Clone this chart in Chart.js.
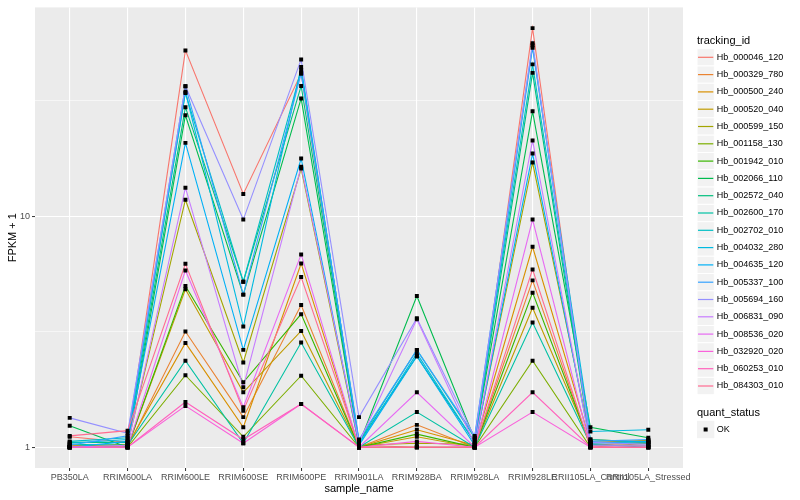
<!DOCTYPE html>
<html lang="en">
<head>
<meta charset="UTF-8">
<title>FPKM + 1 by sample</title>
<script src="https://cdn.jsdelivr.net/npm/chart.js"></script>
<style>
  body { margin: 0; background: #ffffff; }
  #wrap { width: 800px; height: 500px; }
</style>
</head>
<body>
<div id="wrap"><canvas id="fpkmChart" width="800" height="500"></canvas></div>
<script>
const samples = ["PB350LA", "RRIM600LA", "RRIM600LE", "RRIM600SE", "RRIM600PE", "RRIM901LA",
  "RRIM928BA", "RRIM928LA", "RRIM928LE", "RRII105LA_Control", "RRII105LA_Stressed"];

const trackingIds = ["Hb_000046_120", "Hb_000329_780", "Hb_000500_240", "Hb_000520_040", "Hb_000599_150",
  "Hb_001158_130", "Hb_001942_010", "Hb_002066_110", "Hb_002572_040", "Hb_002600_170",
  "Hb_002702_010", "Hb_004032_280", "Hb_004635_120", "Hb_005337_100", "Hb_005694_160",
  "Hb_006831_090", "Hb_008536_020", "Hb_032920_020", "Hb_060253_010", "Hb_084303_010"];

const trackColors = ["#F8766D", "#EA8331", "#D89000", "#C09B00", "#A3A500", "#7CAE00", "#39B600",
  "#00BB4E", "#00BF7D", "#00C1A3", "#00BFC4", "#00BAE0", "#00B0F6", "#35A2FF", "#9590FF",
  "#C77CFF", "#E76BF3", "#FA62DB", "#FF62BC", "#FF6C91"];

// FPKM + 1, one value per sample
const hb000046 = [1.11, 1.05, 52.3, 12.5, 41.5, 1.02, 1.00, 1.00, 65.3, 1.02, 1.05];
const hb000329 = [1.02, 1.00, 3.17, 1.35, 4.13, 1.00, 1.25, 1.00, 5.28, 1.00, 1.04];
const hb000500 = [1.00, 1.02, 2.83, 1.22, 6.25, 1.00, 1.19, 1.02, 7.38, 1.05, 1.07];
const hb000520 = [1.00, 1.00, 4.83, 1.73, 3.19, 1.00, 1.11, 1.00, 4.02, 1.04, 1.07];
const hb000599 = [1.01, 1.03, 11.8, 2.33, 16.1, 1.02, 1.04, 1.03, 17.1, 1.08, 1.05];
const hb001158 = [1.00, 1.00, 2.05, 1.11, 2.04, 1.00, 1.00, 1.00, 2.37, 1.00, 1.00];
const hb001942 = [1.00, 1.00, 4.99, 1.91, 3.77, 1.00, 1.14, 1.00, 4.67, 1.02, 1.02];
const hb002066 = [1.24, 1.00, 27.4, 4.58, 32.4, 1.03, 4.52, 1.08, 28.5, 1.22, 1.10];
const hb002572 = [1.05, 1.05, 29.7, 5.21, 36.7, 1.05, 2.48, 1.05, 41.8, 1.05, 1.04];
const hb002600 = [1.03, 1.02, 2.37, 1.04, 2.84, 1.00, 1.42, 1.00, 3.47, 1.03, 1.00];
const hb002702 = [1.06, 1.10, 34.2, 5.21, 42.9, 1.06, 2.64, 1.10, 45.5, 1.08, 1.05];
const hb004032 = [1.04, 1.08, 34.6, 3.33, 44.3, 1.03, 2.55, 1.05, 53.7, 1.17, 1.19];
const hb004635 = [1.00, 1.06, 20.8, 2.64, 17.8, 1.02, 2.48, 1.02, 18.7, 1.04, 1.06];
const hb005337 = [1.02, 1.12, 36.6, 4.58, 41.5, 1.08, 2.64, 1.12, 55.0, 1.06, 1.08];
const hb005694 = [1.34, 1.15, 36.6, 9.68, 47.8, 1.35, 3.62, 1.10, 56.2, 1.05, 1.03];
const hb006831 = [1.00, 1.02, 13.3, 1.82, 16.4, 1.05, 3.58, 1.03, 21.3, 1.02, 1.02];
const hb008536 = [1.00, 1.00, 5.83, 1.49, 6.84, 1.00, 1.73, 1.00, 9.68, 1.00, 1.00];
const hb032920 = [1.00, 1.00, 1.51, 1.04, 1.54, 1.00, 1.06, 1.00, 1.42, 1.00, 1.00];
const hb060253 = [1.00, 1.00, 1.57, 1.08, 1.54, 1.00, 1.00, 1.00, 1.73, 1.00, 1.00];
const hb084303 = [1.12, 1.18, 6.23, 1.44, 5.46, 1.00, 1.00, 1.00, 5.89, 1.00, 1.00];

const seriesValues = [hb000046, hb000329, hb000500, hb000520, hb000599, hb001158, hb001942,
  hb002066, hb002572, hb002600, hb002702, hb004032, hb004635, hb005337, hb005694,
  hb006831, hb008536, hb032920, hb060253, hb084303];

const yMajor = [1, 10];
const yMinor = [Math.sqrt(10), Math.sqrt(1000)];
const quantLevels = ["OK"];

const datasets = seriesValues.map((vals, i) => ({
  type: "line",
  label: trackingIds[i],
  data: vals.map((v, j) => ({ x: j, y: v })),
  borderColor: trackColors[i],
  borderWidth: 1.1,
  pointRadius: 0,
  fill: false,
  tension: 0,
  order: seriesValues.length - i
}));

datasets.push({
  type: "scatter",
  label: "OK",
  data: seriesValues.flatMap(vals => vals.map((v, j) => ({ x: j, y: v }))),
  pointStyle: "rect",
  pointRadius: 2.8,
  pointBackgroundColor: "#000000",
  pointBorderWidth: 0,
  order: 0
});

const panelBg = {
  id: "panelBg",
  beforeDraw(chart) {
    const { ctx, chartArea: a } = chart;
    ctx.save();
    ctx.fillStyle = "#EBEBEB";
    ctx.fillRect(a.left, a.top, a.right - a.left, a.bottom - a.top);
    ctx.restore();
  }
};

const sideLegend = {
  id: "sideLegend",
  afterDraw(chart) {
    const ctx = chart.ctx;
    const x0 = 697, keyW = 17.3, keyH = 17.3;
    ctx.save();
    ctx.textBaseline = "middle";
    ctx.fillStyle = "#000000";
    ctx.font = "11px 'Liberation Sans', Arial, sans-serif";
    ctx.fillText("tracking_id", x0, 40.5);
    ctx.font = "9px 'Liberation Sans', Arial, sans-serif";
    trackingIds.forEach((id, i) => {
      const cy = 57.3 + i * keyH;
      ctx.fillStyle = "#F2F2F2";
      ctx.fillRect(x0, cy - keyH / 2, keyW, keyH);
      ctx.strokeStyle = "#FFFFFF";
      ctx.lineWidth = 1;
      ctx.strokeRect(x0, cy - keyH / 2, keyW, keyH);
      ctx.strokeStyle = trackColors[i];
      ctx.lineWidth = 1.2;
      ctx.beginPath();
      ctx.moveTo(x0 + 1, cy);
      ctx.lineTo(x0 + keyW - 1, cy);
      ctx.stroke();
      ctx.fillStyle = "#000000";
      ctx.fillText(id, x0 + keyW + 2.5, cy);
    });
    ctx.font = "11px 'Liberation Sans', Arial, sans-serif";
    ctx.fillText("quant_status", x0, 412.7);
    ctx.font = "9px 'Liberation Sans', Arial, sans-serif";
    quantLevels.forEach((q, i) => {
      const cy = 429.5 + i * keyH;
      ctx.fillStyle = "#F2F2F2";
      ctx.fillRect(x0, cy - keyH / 2, keyW, keyH);
      ctx.fillStyle = "#000000";
      ctx.fillRect(x0 + keyW / 2 - 2, cy - 2, 4, 4);
      ctx.fillText(q, x0 + keyW + 2.5, cy);
    });
    ctx.restore();
  }
};

const isMajor = v => yMajor.some(m => Math.abs(m - v) < 1e-6);

new Chart(document.getElementById("fpkmChart"), {
  data: { datasets: datasets },
  options: {
    responsive: false,
    animation: false,
    layout: { padding: { left: 0, right: 117, top: 5, bottom: 0 } },
    plugins: { legend: { display: false }, tooltip: { enabled: false } },
    font: { family: "'Liberation Sans', Arial, sans-serif" },
    scales: {
      x: {
        type: "linear",
        min: -0.6,
        max: samples.length - 1 + 0.6,
        afterBuildTicks: s => { s.ticks = samples.map((_, i) => ({ value: i })); },
        afterFit: s => { s.height = 32; },
        ticks: {
          callback: v => samples[v],
          autoSkip: false,
          maxRotation: 0,
          color: "#4D4D4D",
          font: { size: 9, family: "'Liberation Sans', Arial, sans-serif" },
          padding: 1
        },
        grid: { color: "#FFFFFF", lineWidth: 1.1, tickLength: 3, tickColor: "#333333", tickWidth: 1 },
        border: { display: false },
        title: {
          display: true, text: "sample_name", color: "#000000",
          font: { size: 11, family: "'Liberation Sans', Arial, sans-serif" },
          padding: { top: 0, bottom: 4 }
        }
      },
      y: {
        type: "logarithmic",
        min: 0.813,
        max: 80.3,
        afterBuildTicks: s => {
          s.ticks = yMajor.concat(yMinor).sort((a, b) => a - b).map(v => ({ value: v }));
        },
        afterFit: s => { s.width = 35; },
        ticks: {
          callback: v => isMajor(v) ? String(Math.round(v)) : "",
          color: "#4D4D4D",
          font: { size: 9, family: "'Liberation Sans', Arial, sans-serif" },
          padding: 2
        },
        grid: {
          color: "#FFFFFF",
          lineWidth: c => (c.tick && isMajor(c.tick.value)) ? 1.1 : 0.55,
          tickLength: 3,
          tickColor: c => (c.tick && isMajor(c.tick.value)) ? "#333333" : "rgba(0,0,0,0)",
          tickWidth: 1
        },
        border: { display: false },
        title: {
          display: true, text: "FPKM + 1", color: "#000000",
          font: { size: 11, family: "'Liberation Sans', Arial, sans-serif" },
          padding: { top: 6, bottom: 0 }
        }
      }
    }
  },
  plugins: [panelBg, sideLegend]
});
</script>
</body>
</html>
